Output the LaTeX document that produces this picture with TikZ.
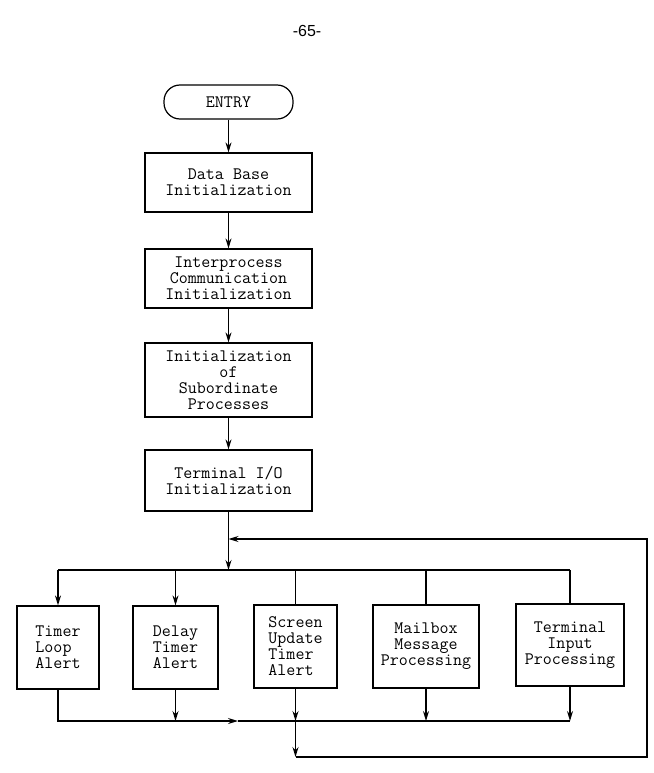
\documentclass[tikz,border=0pt]{standalone}
\usepackage{fontspec}
\newcommand\tw{\ttfamily\addfontfeature{FakeBold=0.5}}
\newfontfamily\pgfont{Liberation Sans}
\usetikzlibrary{arrows.meta}
\begin{document}
\begin{tikzpicture}[x=1pt,y=-1pt,
  line width=1.2pt,
  box/.style={draw, inner sep=0pt, font=\tw\fontsize{17.5}{16}\selectfont, align=center},
  alertbox/.style={box, align=left},
  arr/.style={-{Stealth[length=10pt,width=6pt]}},
  pagenum/.style={font=\pgfont\fontsize{16}{18}\selectfont, inner sep=0pt}
]
\useasboundingbox (0,0) rectangle (653,773);
\node[pagenum] (pg) at (307,31) {-65-};

% main column
\node[box, rounded corners=16pt, minimum width=129pt, minimum height=34pt] (entry) at (228.5,102) {ENTRY};
\node[box, minimum width=167pt, minimum height=59pt] (db) at (228.5,182.5) {Data Base\\Initialization};
\node[box, minimum width=167pt, minimum height=59pt] (ipc) at (228.5,278.5) {Interprocess\\Communication\\Initialization};
\node[box, minimum width=167pt, minimum height=74pt] (sub) at (228.5,380) {Initialization\\of\\Subordinate\\Processes};
\node[box, minimum width=167pt, minimum height=61pt] (tio) at (228.5,480.5) {Terminal I/O\\Initialization};

% bottom row
\node[alertbox, minimum width=82pt, minimum height=83pt] (tla) at (58,647.5) {Timer\\Loop\\Alert};
\node[alertbox, minimum width=85pt, minimum height=83pt] (dta) at (175.5,647.5) {Delay\\Timer\\Alert};
\node[alertbox, minimum width=83pt, minimum height=83pt] (sua) at (295.5,646.5) {Screen\\Update\\Timer\\Alert};
\node[box, minimum width=106pt, minimum height=83pt] (mmp) at (426,646.5) {Mailbox\\Message\\Processing};
\node[box, minimum width=108pt, minimum height=82pt] (tip) at (570,645) {Terminal\\Input\\Processing};

% junction coordinates
\coordinate (j0) at (228.5,539);
\coordinate (j1) at (228.5,570);
\coordinate (bj) at (295.5,721);
\coordinate (ma) at (238,721);
\coordinate (bl) at (295.5,757);
\coordinate (br) at (647,757);
\coordinate (tr) at (647,539);

% main column connectors
\draw[arr] (entry.south) -- (db.north);
\draw[arr] (db.south) -- (ipc.north);
\draw[arr] (ipc.south) -- (sub.north);
\draw[arr] (sub.south) -- (tio.north);
\draw[arr] (tio.south) -- (j1);

% top bus
\draw (tla.north |- j1) -- (tip.north |- j1);
\draw[arr] (tla.north |- j1) -- (tla.north);
\draw[arr] (dta.north |- j1) -- (dta.north);
\draw (sua.north |- j1) -- (sua.north);
\draw (mmp.north |- j1) -- (mmp.north);
\draw (tip.north |- j1) -- (tip.north);

% bottom bus
\draw[arr] (tla.south) |- (ma);
\draw (ma) -- (tip.south |- bj);
\draw[arr] (dta.south) -- (dta.south |- bj);
\draw[arr] (sua.south) -- (bj);
\draw[arr] (mmp.south) -- (mmp.south |- bj);
\draw[arr] (tip.south) -- (tip.south |- bj);

% loop back
\draw[arr] (bj) -- (bl);
\draw[arr] (bl) -- (br) -- (tr) -- (j0);
\end{tikzpicture}
\end{document}
